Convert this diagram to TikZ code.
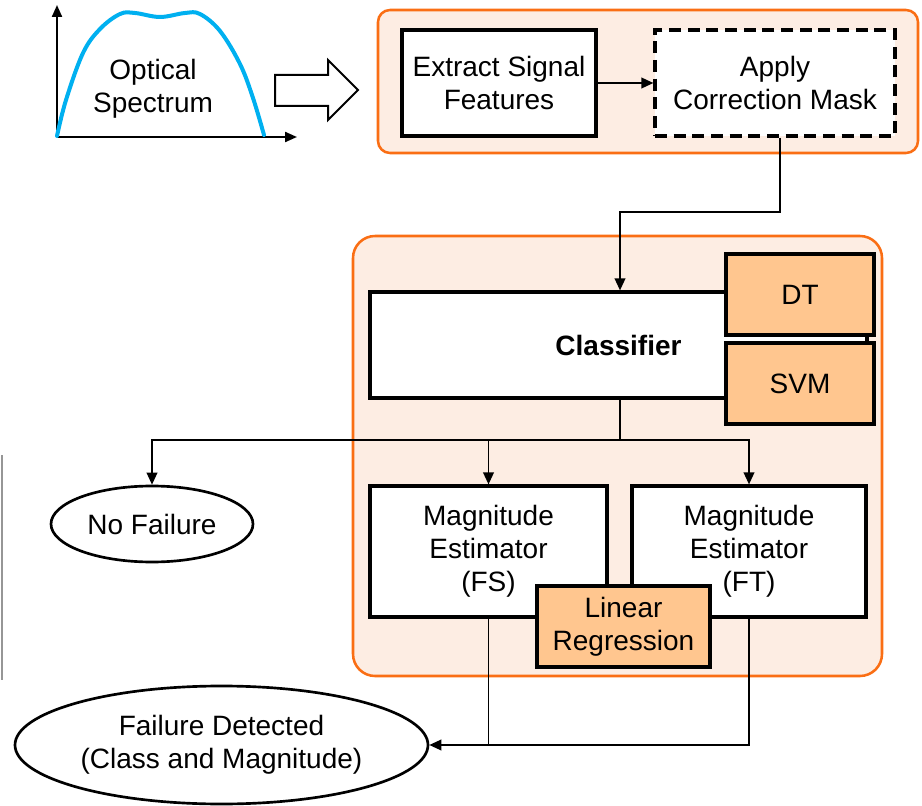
\documentclass[tikz,border=0pt]{standalone}
\usepackage{fontspec}
\setmainfont{Liberation Sans}
\usetikzlibrary{arrows.meta,shapes.geometric,calc}

\definecolor{panelline}{RGB}{250,110,20}
\definecolor{panelfill}{RGB}{253,237,227}
\definecolor{modelfill}{RGB}{255,198,143}
\definecolor{curveblue}{RGB}{0,176,240}
\definecolor{edgegray}{RGB}{150,150,150}

\tikzset{
  x=0.75pt, y=-0.75pt,
  every node/.style={font=\fontsize{21}{24.75}\selectfont, align=center, inner sep=0pt},
  panel/.style={draw=panelline, line width=1.9pt, fill=panelfill, rectangle},
  stepbox/.style={draw=black, line width=2.4pt, fill=white, rectangle},
  maskbox/.style={stepbox, dash pattern=on 9pt off 5pt},
  modelbox/.style={stepbox, fill=modelfill},
  outcome/.style={draw=black, line width=2pt, fill=white, ellipse},
  conn/.style={line width=1.25pt, -{Triangle[length=9pt,width=8pt]}},
  wire/.style={line width=1.25pt},
  axis/.style={line width=1.6pt, -{Triangle[length=9pt,width=7.5pt]}}
}

\begin{document}
\begin{tikzpicture}
\useasboundingbox (0,0) rectangle (922,806);

% ---- optical spectrum sketch ----
\coordinate (origin) at (57,137);
\draw[axis] (origin) -- (57,5);
\draw[axis] (origin) -- (297,137);
\draw[curveblue, line width=3pt, line cap=round]
  plot[smooth, tension=0.6] coordinates {
    (57,136) (66,100) (83,53) (100,29) (120,14) (135,13) (160,17)
    (185,13) (200,14) (220,31) (240,64) (253,98) (264,135)};
\node (spec) at (153,89) {Optical\\Spectrum};

% ---- block arrow into the preprocessing stage ----
\draw[line width=1.5pt, fill=white]
  (275,75) -- (328,75) -- (328,60) -- (358,90) -- (328,120) -- (328,106) -- (275,106) -- cycle;

% ---- preprocessing stage ----
\node[panel, rounded corners=9pt, minimum width=405pt, minimum height=107.25pt] (prep) at (648,81.5) {};
\node[stepbox, minimum width=145.5pt, minimum height=79.5pt] (feat) at (499,83) {Extract Signal\\Features};
\node[maskbox, minimum width=180pt, minimum height=79.5pt] (mask) at (775,83) {Apply\\Correction Mask};
\draw[conn] (feat.east) -- (mask.east -| mask.west);

% ---- detection stage ----
\node[panel, rounded corners=16.5pt, minimum width=396.75pt, minimum height=330pt] (detect) at (617.5,456) {};
\node[stepbox, minimum width=372.75pt, minimum height=79.5pt, font=\fontsize{21}{24.75}\selectfont\bfseries] (cls) at (618.5,345) {Classifier};
\node[modelbox, minimum width=111pt, minimum height=60.75pt] (dt) at (800,294.5) {DT};
\node[modelbox, minimum width=111pt, minimum height=60.75pt] (svm) at (800,383.5) {SVM};

\coordinate (drop) at (620,212);
\draw[conn] (mask.south -| 780,0) |- (drop) -- (drop |- cls.north);

\node[stepbox, minimum width=177.75pt, minimum height=98.25pt] (fs) at (488.5,551.5) {Magnitude\\Estimator\\(FS)};
\node[stepbox, minimum width=175.5pt, minimum height=98.25pt] (ft) at (749,551.5) {Magnitude\\Estimator\\(FT)};
\node[modelbox, minimum width=129.75pt, minimum height=60.75pt] (lr) at (623.5,626.5) {Linear\\Regression};

\node[outcome, minimum width=151.5pt, minimum height=57pt] (nofail) at (152,524) {No Failure};
\node[outcome, minimum width=309.75pt, minimum height=88.5pt] (found) at (221.5,745) {Failure Detected\\(Class and Magnitude)};

% ---- branching after the classifier ----
\coordinate (split) at (620,440);
\draw[wire] (split |- cls.south) -- (split);
\draw[conn] (split) -| (nofail.north);
\draw[conn] (split) -| (fs.north);
\draw[conn] (split) -| (ft.north);

% ---- estimators to the final outcome ----
\draw[conn] (ft.south) |- (found.east);
\draw[wire] (fs.south) -- (fs.south |- found.east);

% ---- edge rule at the left margin ----
\draw[edgegray, line width=1.3pt] (2,455) -- (2,680);
\end{tikzpicture}
\end{document}
